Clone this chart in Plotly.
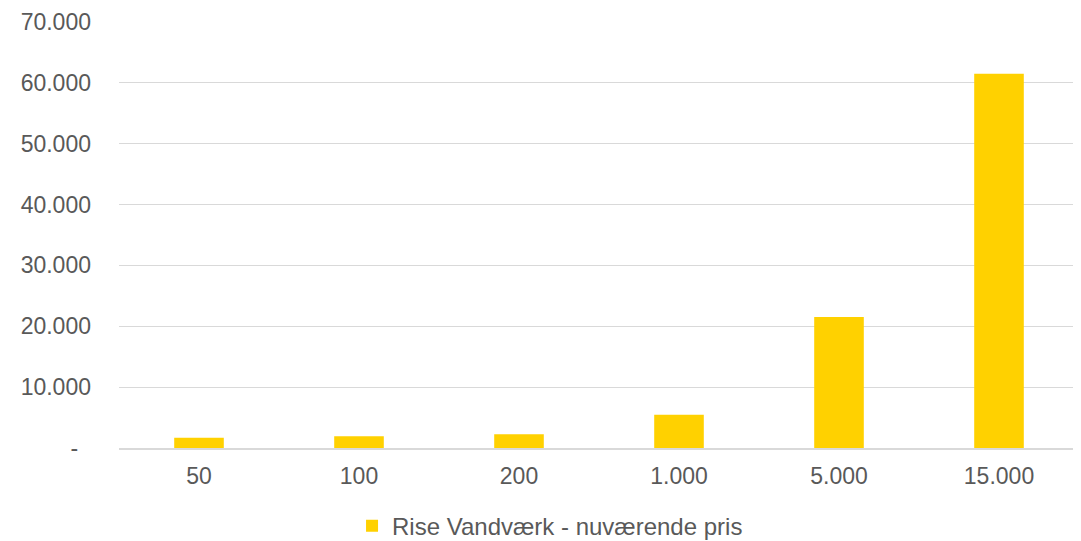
import plotly.graph_objects as go

categories = ["50", "100", "200", "1.000", "5.000", "15.000"]
values = [1690, 1920, 2250, 5460, 21520, 61480]
series_name = "Rise Vandværk - nuværende pris"
y_tickvals = [0, 10000, 20000, 30000, 40000, 50000, 60000, 70000]
y_ticktext = ["-\u00a0\u00a0", "10.000", "20.000", "30.000", "40.000", "50.000", "60.000", "70.000"]

font_family = "Liberation Sans, Arial, sans-serif"
text_color = "#595959"
grid_color = "#d9d9d9"

fig = go.Figure()
fig.add_trace(go.Bar(
    x=categories, y=values, name=series_name,
    marker=dict(color="#FFD100", line=dict(width=0)),
))

fig.update_layout(
    width=1073, height=541,
    margin=dict(l=111, r=2, t=14, b=100),
    paper_bgcolor="white", plot_bgcolor="white",
    bargap=0.69,
    showlegend=True,
    font=dict(family=font_family, size=23, color=text_color),
    legend=dict(orientation="h", x=0.449, xanchor="center", y=-0.128, yanchor="top",
                font=dict(size=24, color=text_color), itemwidth=30),
    xaxis=dict(type="category", showgrid=False, showline=True, linecolor=grid_color,
               linewidth=1.5, ticks="", ticklabelstandoff=7, zeroline=False),
    yaxis=dict(range=[0, 70000], tickvals=y_tickvals, ticktext=y_ticktext,
               showgrid=True, gridcolor=grid_color, gridwidth=1, zeroline=False,
               showline=False, ticks="", ticklabelstandoff=27),
)

fig.write_html("out.html")
